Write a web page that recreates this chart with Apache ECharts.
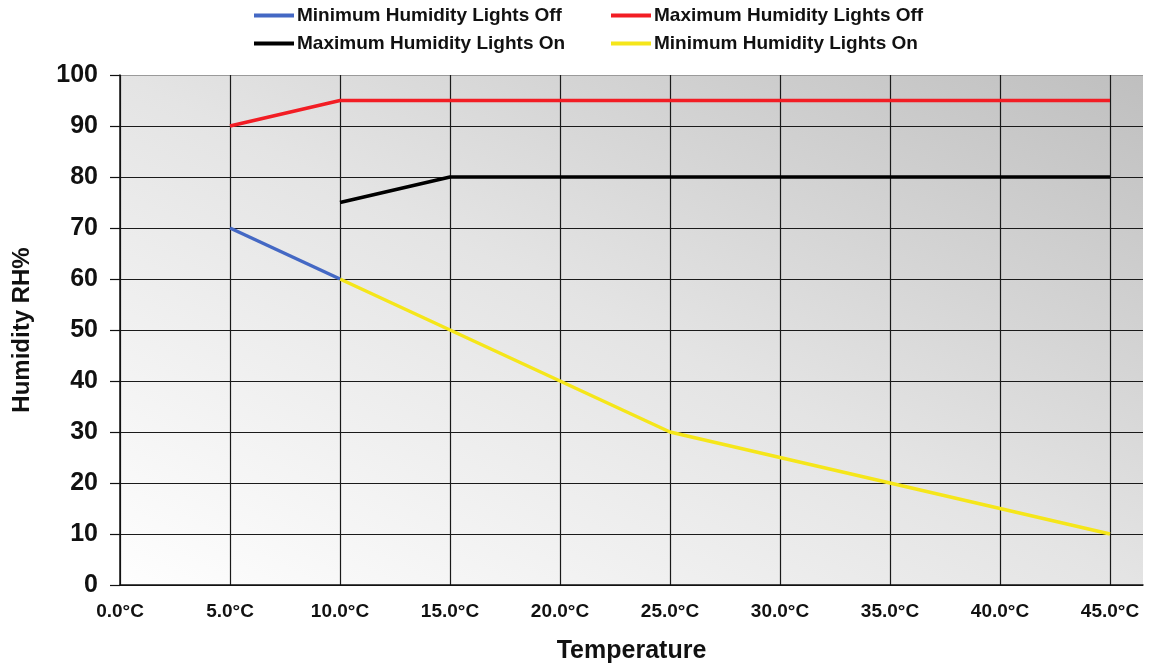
<!DOCTYPE html>
<html>
<head>
<meta charset="utf-8">
<script src="https://cdn.jsdelivr.net/npm/echarts@6/dist/echarts.min.js"></script>
<style>
html,body{margin:0;padding:0;background:#fff;}
#chart{width:1150px;height:666px;}
</style>
</head>
<body>
<div id="chart"></div>
<script>
// Data
const xTicks = [0, 5, 10, 15, 20, 25, 30, 35, 40, 45];
const yTicks = [0, 10, 20, 30, 40, 50, 60, 70, 80, 90, 100];
const seriesNames = ['Minimum Humidity Lights Off', 'Maximum Humidity Lights Off', 'Maximum Humidity Lights On', 'Minimum Humidity Lights On'];
const minOffX = [5, 10];
const minOffY = [70, 60];
const maxOffX = [5, 10, 15, 20, 25, 30, 35, 40, 45];
const maxOffY = [90, 95, 95, 95, 95, 95, 95, 95, 95];
const maxOnX = [10, 15, 20, 25, 30, 35, 40, 45];
const maxOnY = [75, 80, 80, 80, 80, 80, 80, 80, 80];
const minOnX = [10, 15, 20, 25, 30, 35, 40, 45];
const minOnY = [60, 50, 40, 30, 25, 20, 15, 10];
const colors = ['#4468c4', '#f21d24', '#000000', '#f5e61a'];

function pairs(xs, ys) { return xs.map((x, i) => [x, ys[i]]); }

const chart = echarts.init(document.getElementById('chart'));
const FONT = '"Liberation Sans", Arial, sans-serif';
const ySplitColors = yTicks.map((v, i) => i === yTicks.length - 1 ? '#9a9a9a' : '#1a1a1a');

function mkSeries(name, data, color, z) {
  return {
    name: name, type: 'line', data: data, showSymbol: false, symbol: 'none',
    lineStyle: { color: color, width: 3.5 }, itemStyle: { color: color }, z: z
  };
}
function mkLegend(name, left, top) {
  return {
    data: [name], left: left, top: top, itemWidth: 40, itemHeight: 4, itemGap: 0,
    icon: 'rect', padding: 0,
    textStyle: { fontFamily: FONT, fontWeight: 'bold', fontSize: 19, color: '#111', padding: [0, 0, 0, -2] }
  };
}

const option = {
  animation: false,
  textStyle: { fontFamily: FONT },
  legend: [
    mkLegend(seriesNames[0], 254, 6),
    mkLegend(seriesNames[1], 611, 6),
    mkLegend(seriesNames[2], 254, 34),
    mkLegend(seriesNames[3], 611, 34)
  ],
  grid: {
    left: 120, top: 75, right: 7, bottom: 81, show: true, borderWidth: 0,
    outerBoundsMode: 'none', containLabel: false,
    backgroundColor: new echarts.graphic.LinearGradient(120, 585, 527, -232, [
      { offset: 0, color: '#fefefe' },
      { offset: 0.5, color: '#e4e4e4' },
      { offset: 1, color: '#bfbfbf' }
    ], true)
  },
  xAxis: {
    type: 'value', min: 0, max: 46.5, interval: 5,
    name: 'Temperature', nameLocation: 'middle', nameGap: 54,
    nameTextStyle: { fontFamily: FONT, fontWeight: 'bold', fontSize: 25, color: '#111' },
    axisLine: { show: true, onZero: false, lineStyle: { color: '#111', width: 1.5 } },
    axisTick: { show: false },
    axisLabel: {
      margin: 17, fontFamily: FONT, fontWeight: 'bold', fontSize: 19, color: '#111', showMaxLabel: false,
      formatter: function (v) { return xTicks.indexOf(v) >= 0 ? v.toFixed(1) + '°C' : ''; }
    },
    splitLine: { show: true, showMaxLine: false, lineStyle: { color: '#1a1a1a', width: 1.2 } }
  },
  yAxis: {
    type: 'value', min: 0, max: 100, interval: 10,
    name: 'Humidity RH%', nameLocation: 'middle', nameGap: 86, nameRotate: 90,
    nameTextStyle: { fontFamily: FONT, fontWeight: 'bold', fontSize: 24, color: '#111' },
    axisLine: { show: true, lineStyle: { color: '#111', width: 1.5 } },
    axisTick: { show: true, length: 10, lineStyle: { color: '#111', width: 1.2 } },
    axisLabel: {
      margin: 22, fontFamily: FONT, fontWeight: 'bold', fontSize: 25, color: '#111',
      formatter: function (v) { return yTicks.indexOf(v) >= 0 ? String(v) : ''; }
    },
    splitLine: { show: true, lineStyle: { color: ySplitColors, width: 1.2 } }
  },
  series: [
    mkSeries(seriesNames[0], pairs(minOffX, minOffY), colors[0], 3),
    mkSeries(seriesNames[1], pairs(maxOffX, maxOffY), colors[1], 3),
    mkSeries(seriesNames[2], pairs(maxOnX, maxOnY), colors[2], 3),
    mkSeries(seriesNames[3], pairs(minOnX, minOnY), colors[3], 2)
  ]
};
chart.setOption(option);
</script>
</body>
</html>
